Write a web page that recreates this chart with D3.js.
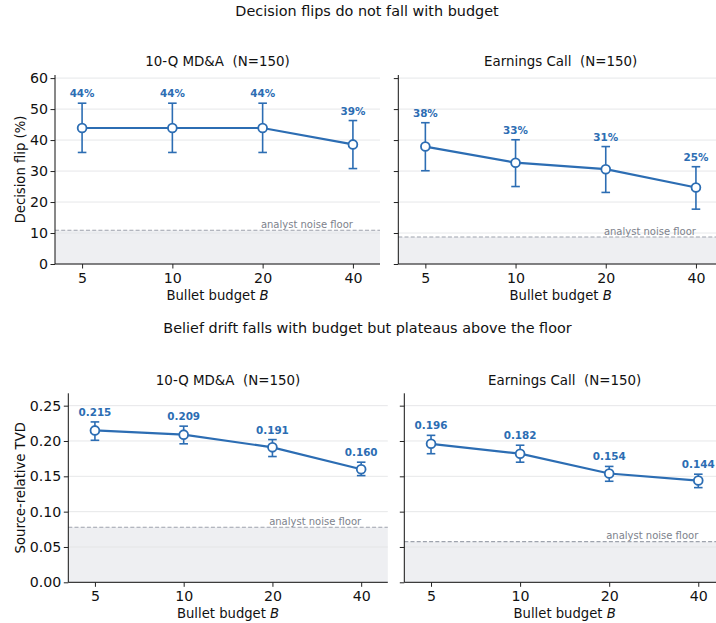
<!DOCTYPE html>
<html><head><meta charset="utf-8">
<script src="https://cdn.jsdelivr.net/npm/d3@7"></script>
<style>
body{margin:0;background:#fff;}
svg{display:block;font-family:"DejaVu Sans",sans-serif;}
text{white-space:pre;}
</style></head>
<body>
<svg id="c" width="716" height="623"></svg>
<script>
// ---- data ----
const budgets = ["5","10","20","40"];
const rowTitles = ["Decision flips do not fall with budget",
                   "Belief drift falls with budget but plateaus above the floor"];
const panelTitles = ["10-Q MD&A  (N=150)", "Earnings Call  (N=150)"];

const flipMda     = [43.9, 43.9, 43.9, 38.6];
const flipMdaLo   = [36.0, 36.0, 36.0, 30.8];
const flipMdaHi   = [51.9, 51.9, 51.9, 46.3];
const flipCall    = [37.9, 32.7, 30.6, 24.7];
const flipCallLo  = [30.1, 25.0, 23.1, 17.7];
const flipCallHi  = [45.6, 40.1, 37.9, 31.4];
const flipFloor   = [10.9, 8.7];
const flipTicks   = [0, 10, 20, 30, 40, 50, 60];

const tvdMda      = [0.215, 0.209, 0.191, 0.160];
const tvdMdaLo    = [0.201, 0.196, 0.178, 0.151];
const tvdMdaHi    = [0.227, 0.221, 0.202, 0.170];
const tvdCall     = [0.196, 0.182, 0.154, 0.144];
const tvdCallLo   = [0.182, 0.170, 0.143, 0.134];
const tvdCallHi   = [0.208, 0.194, 0.164, 0.153];
const tvdFloor    = [0.078, 0.0575];
const tvdTicks    = [0, 0.05, 0.10, 0.15, 0.20, 0.25];

// ---- drawing ----
const svg = d3.select("#c");
const BLUE = "#2c6db3";

function panel(o){
  const g = svg.append("g");
  const x = d3.scalePoint().domain(budgets).range([o.x0, o.x1]).padding(0.3);
  const y = d3.scaleLinear().domain(o.ydom).range([o.y0, o.y1]);
  const left = o.x0, right = o.x1;
  // shading
  g.append("rect").attr("x", left).attr("width", right-left)
    .attr("y", y(o.floor)).attr("height", y(o.ydom[0]) - y(o.floor))
    .attr("fill", "#eeeff2");
  // grid
  g.selectAll(".grid").data(o.ticks).join("line")
    .attr("x1", left).attr("x2", right)
    .attr("y1", d => y(d)).attr("y2", d => y(d))
    .attr("stroke", "#e3e4e6").attr("stroke-width", 0.9);
  // floor line
  g.append("line").attr("x1", left).attr("x2", right)
    .attr("y1", y(o.floor)).attr("y2", y(o.floor))
    .attr("stroke", "#9ea3ad").attr("stroke-width", 1.1)
    .attr("stroke-dasharray", "4,2.2");
  g.append("text").attr("x", x(budgets[3])).attr("y", y(o.floor) - 2.5)
    .attr("text-anchor", "end").attr("font-size", 10).attr("fill", "#7d828c")
    .text("analyst noise floor");
  // axes
  const ya = d3.axisLeft(y).tickValues(o.ticks).tickSize(4.5).tickPadding(2.5)
    .tickFormat(o.showY ? o.fmt : () => "");
  const yg = g.append("g").attr("transform", `translate(${left},0)`).call(ya);
  yg.select(".domain").attr("d", `M0,${o.y0}V${o.y1}`);
  const xa = d3.axisBottom(x).tickSize(4.5).tickPadding(4);
  const xg = g.append("g").attr("transform", `translate(0,${o.y0})`).call(xa);
  xg.select(".domain").attr("d", `M${left},0H${right}`);
  [yg, xg].forEach(a => {
    a.selectAll("text").attr("font-size", 14.2).attr("fill", "#111").attr("font-family", "DejaVu Sans");
    a.selectAll("line").attr("stroke", "#222");
    a.select(".domain").attr("stroke", "#111").attr("stroke-width", 1);
  });
  // x label
  const xl = g.append("text").attr("x", (left+right)/2).attr("y", o.xlabY)
    .attr("text-anchor", "middle").attr("font-size", 13.2).attr("fill", "#111");
  xl.append("tspan").text("Bullet budget ");
  xl.append("tspan").attr("font-style", "italic").text("B");
  // y label
  if (o.showY) {
    g.append("text").attr("transform", `translate(${o.ylabX},${(o.y0+o.y1)/2}) rotate(-90)`)
      .attr("text-anchor", "middle").attr("font-size", 13.2).attr("fill", "#111")
      .text(o.ylabel);
  }
  // title
  g.append("text").attr("x", (left+right)/2).attr("y", o.titleY)
    .attr("text-anchor", "middle").attr("font-size", 13.4).attr("fill", "#111")
    .text(o.title);
  // error bars
  const eb = g.selectAll(".eb").data(budgets).join("g");
  eb.append("line").attr("x1", d => x(d)).attr("x2", d => x(d))
    .attr("y1", (d,i) => y(o.lo[i])).attr("y2", (d,i) => y(o.hi[i]))
    .attr("stroke", BLUE).attr("stroke-width", 1.6);
  ["lo","hi"].forEach(k => {
    eb.append("line").attr("x1", d => x(d) - 4.3).attr("x2", d => x(d) + 4.3)
      .attr("y1", (d,i) => y(o[k][i])).attr("y2", (d,i) => y(o[k][i]))
      .attr("stroke", BLUE).attr("stroke-width", 1.6);
  });
  // line
  g.append("path").datum(budgets)
    .attr("d", d3.line().x(d => x(d)).y((d,i) => y(o.v[i])))
    .attr("fill", "none").attr("stroke", BLUE).attr("stroke-width", 2.2);
  // markers
  g.selectAll(".pt").data(budgets).join("circle")
    .attr("cx", d => x(d)).attr("cy", (d,i) => y(o.v[i])).attr("r", 4.4)
    .attr("fill", "#fff").attr("stroke", BLUE).attr("stroke-width", 1.8);
  // value labels
  g.selectAll(".vl").data(budgets).join("text")
    .attr("x", d => x(d)).attr("y", (d,i) => y(o.hi[i]) - 6)
    .attr("text-anchor", "middle").attr("font-size", 10.4).attr("font-weight", "bold")
    .attr("fill", BLUE).text((d,i) => o.lab(o.v[i]));
}

// row titles
svg.append("text").attr("x", 367).attr("y", 16).attr("text-anchor", "middle")
  .attr("font-size", 14.4).attr("fill", "#111").text(rowTitles[0]);
svg.append("text").attr("x", 367.5).attr("y", 333).attr("text-anchor", "middle")
  .attr("font-size", 14.4).attr("fill", "#111").text(rowTitles[1]);

const pctLab = v => d3.format(".0f")(v) + "%";
const tvdLab = v => d3.format(".3f")(v);
const topCommon = {ydom:[0,61], y0:264, y1:75, ticks:flipTicks, fmt:d3.format("d"),
  ylabel:"Decision flip (%)", ylabX:24.5, xlabY:299.5, titleY:66, lab:pctLab};
const botCommon = {ydom:[0,0.2675], y0:582.3, y1:393.3, ticks:tvdTicks, fmt:d3.format(".2f"),
  ylabel:"Source-relative TVD", ylabX:25, xlabY:617.5, titleY:385, lab:tvdLab};

panel({...topCommon, x0:55, x1:380, showY:true, title:panelTitles[0],
  v:flipMda, lo:flipMdaLo, hi:flipMdaHi, floor:flipFloor[0]});
panel({...topCommon, x0:398.3, x1:723, showY:false, title:panelTitles[1],
  v:flipCall, lo:flipCallLo, hi:flipCallHi, floor:flipFloor[1]});
panel({...botCommon, x0:68.3, x1:387.8, showY:true, title:panelTitles[0],
  v:tvdMda, lo:tvdMdaLo, hi:tvdMdaHi, floor:tvdFloor[0]});
panel({...botCommon, x0:404.3, x1:725, showY:false, title:panelTitles[1],
  v:tvdCall, lo:tvdCallLo, hi:tvdCallHi, floor:tvdFloor[1]});
</script>
</body></html>
